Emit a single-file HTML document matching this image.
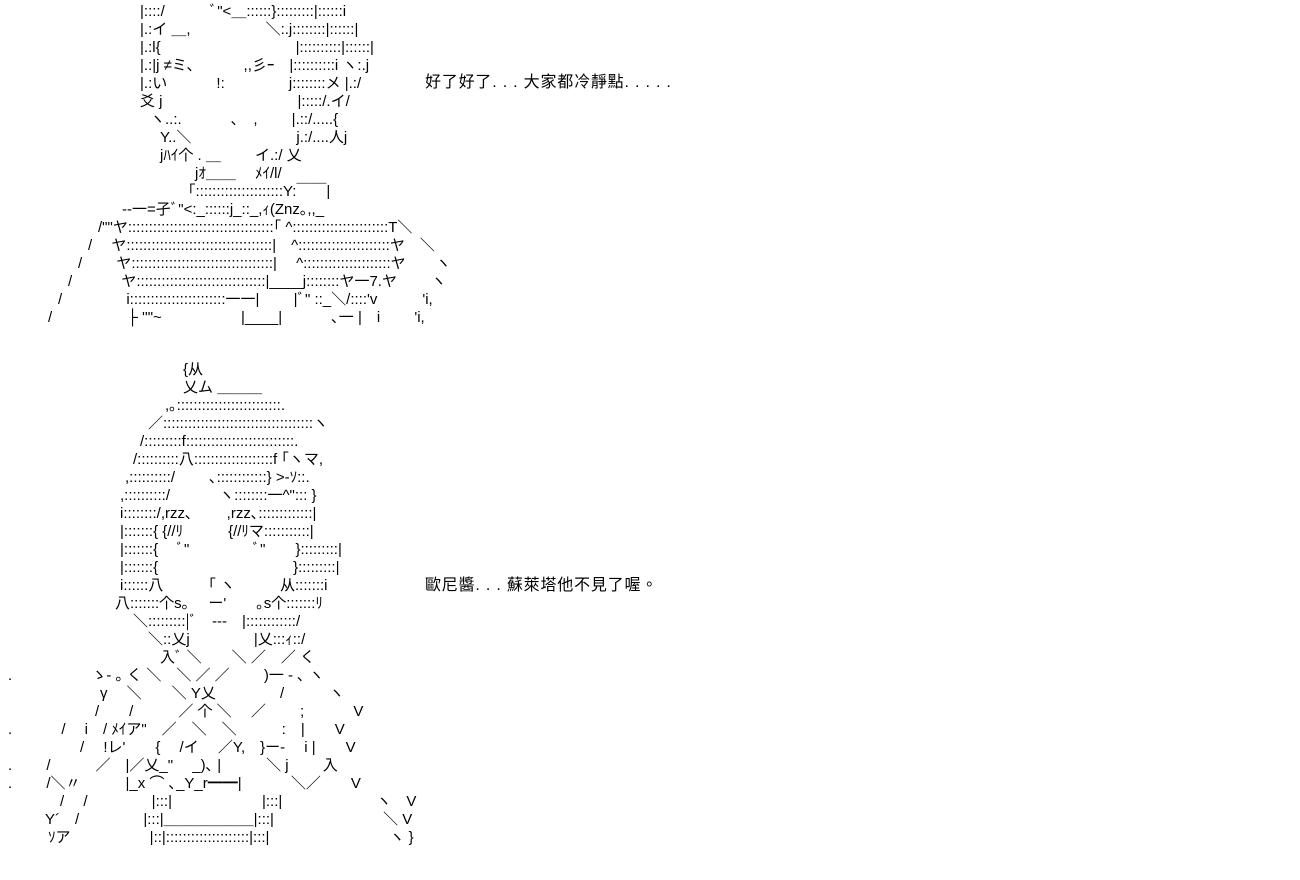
<!DOCTYPE html>
<html><head><meta charset="utf-8"><style>
body{margin:0;background:#fff;width:1300px;height:880px;overflow:hidden;position:relative;}
.l{position:absolute;white-space:pre;font-family:"Liberation Sans","Noto Sans CJK JP",sans-serif;font-size:15px;line-height:18px;color:#000;}
.t{position:absolute;white-space:pre;font-family:"Liberation Sans","Noto Sans CJK TC",sans-serif;font-size:16px;letter-spacing:0.8px;line-height:18px;color:#000;}
</style></head><body>
<div class="l" style="left:140px;top:3px">|::::/　　　ﾞ"&lt;＿::::::}:::::::::|::::::i</div>
<div class="l" style="left:140px;top:21px">|.:イ ＿,　　　　　＼:.j::::::::|::::::|</div>
<div class="l" style="left:140px;top:39px">|.:l{　　　　　　　　　|::::::::::|::::::|</div>
<div class="l" style="left:140px;top:57px">|.:|j ≠ミ､　　　 ,,彡ｰ　|::::::::::i ヽ:.j</div>
<div class="l" style="left:140px;top:75px">|.:い　　　 !:　　　　 j::::::::メ |.:/</div>
<div class="l" style="left:140px;top:93px">爻 j　　　　　　　　　|:::::/.イ/</div>
<div class="l" style="left:150px;top:111px">ヽ..:.　　　 ､　,　　 |.::/.....{</div>
<div class="l" style="left:160px;top:129px">Y..＼　　　　　　　j.:/....人j</div>
<div class="l" style="left:160px;top:147px">jﾊｲ个 . ＿　　 イ.:/ 乂</div>
<div class="l" style="left:195px;top:165px">jｵ＿＿　 ﾒｲ/l/</div>
<div class="l" style="left:188px;top:183px">｢:::::::::::::::::::::Y:￣￣|</div>
<div class="l" style="left:122px;top:201px">‐‐一=孑ﾞ"&lt;:_::::::j_::_,ｨ(Znz｡,,_</div>
<div class="l" style="left:98px;top:219px">/""ヤ:::::::::::::::::::::::::::::::::::｢ ^:::::::::::::::::::::::T＼</div>
<div class="l" style="left:88px;top:237px">/　 ヤ:::::::::::::::::::::::::::::::::::|　^::::::::::::::::::::::ヤ　＼</div>
<div class="l" style="left:78px;top:255px">/　　 ヤ::::::::::::::::::::::::::::::::::|　 ^:::::::::::::::::::::ヤ　　ヽ</div>
<div class="l" style="left:68px;top:273px">/　　　 ヤ:::::::::::::::::::::::::::::::|____j::::::::ヤ一7.ヤ　　 ヽ</div>
<div class="l" style="left:58px;top:291px">/　　　　 i:::::::::::::::::::::::一一|　　 |ﾞ" ::_＼/::::'v　　　'i,</div>
<div class="l" style="left:48px;top:309px">/　　　　　├ ''"~　　　　　 |____|　　　 ､一 |　i　　 'i,</div>
<div class="t" style="left:425px;top:74px">好了好了. . . 大家都冷靜點. . . . .</div>

<div class="l" style="left:183px;top:361px">{从</div>
<div class="l" style="left:183px;top:379px">乂ム ＿＿＿</div>
<div class="l" style="left:165px;top:397px">,｡:::::::::::::::::::::::::.</div>
<div class="l" style="left:148px;top:415px">／::::::::::::::::::::::::::::::::::::ヽ</div>
<div class="l" style="left:140px;top:433px">/:::::::::f::::::::::::::::::::::::::.</div>
<div class="l" style="left:133px;top:451px">/::::::::::八:::::::::::::::::::f ｢ヽマ,</div>
<div class="l" style="left:125px;top:469px">,::::::::::/　　 ､::::::::::::} &gt;-ｿ::.</div>
<div class="l" style="left:120px;top:487px">,::::::::::/　　　 ヽ::::::::一^"::: }</div>
<div class="l" style="left:120px;top:505px">i::::::::/,rzz､　　 ,rzz､:::::::::::::|</div>
<div class="l" style="left:120px;top:523px">|:::::::{ {//ﾘ　　　{//ﾘマ:::::::::::|</div>
<div class="l" style="left:120px;top:541px">|:::::::{　 ﾞ"　　　　 ﾞ"　　}:::::::::|</div>
<div class="l" style="left:120px;top:559px">|:::::::{　　　　　　　　　}:::::::::|</div>
<div class="l" style="left:120px;top:577px">i::::::八　　　｢ ヽ　　　从:::::::i</div>
<div class="l" style="left:115px;top:595px">八:::::::个s｡　 ー'　　｡s个:::::::ﾘ</div>
<div class="l" style="left:133px;top:613px">＼:::::::::|ﾞ　--‐　|::::::::::::/</div>
<div class="l" style="left:148px;top:631px">＼::乂j　　　　 |乂:::ｨ::/</div>
<div class="l" style="left:160px;top:649px">入ﾞ ＼　　＼ ／　／ く</div>
<div class="l" style="left:8px;top:667px">.　　　　　 ゝ- ｡ く ＼　＼ ／ ／　　 )一 ‐ ､ ヽ</div>
<div class="l" style="left:100px;top:685px">γ　 ＼　　＼ Y乂　　　　 /　　　ヽ</div>
<div class="l" style="left:95px;top:703px">/　　/　　　／ 个 ＼　 ／　　 ;　　　 V</div>
<div class="l" style="left:8px;top:721px">.　　　 /　 i　/ ﾒｲア"　／　＼　＼　　　:　|　　V</div>
<div class="l" style="left:80px;top:739px">/　 !レ'　　{　 /イ　 ／Y,　}ー-　 i |　　V</div>
<div class="l" style="left:8px;top:757px">.　　 /　　　／　|／乂_" 　_)､ |　　　＼ j　　 入</div>
<div class="l" style="left:8px;top:775px">.　　 /＼〃　　　|_x ⌒ ､_Y_r━━|　　　 ＼／　　V</div>
<div class="l" style="left:60px;top:793px">/　 /　　　　 |:::|　　　　　　|:::|　　　　　　 ヽ　V</div>
<div class="l" style="left:45px;top:811px">Y´　/　　　　 |:::|＿＿＿＿＿＿|:::|　　　　　　　 ＼ V</div>
<div class="l" style="left:48px;top:829px">ｿア　　　　　 |::|::::::::::::::::::::|:::|　　　　　　　　ヽ }</div>
<div class="t" style="left:425px;top:577px">歐尼醬. . . 蘇萊塔他不見了喔。</div>
</body></html>
